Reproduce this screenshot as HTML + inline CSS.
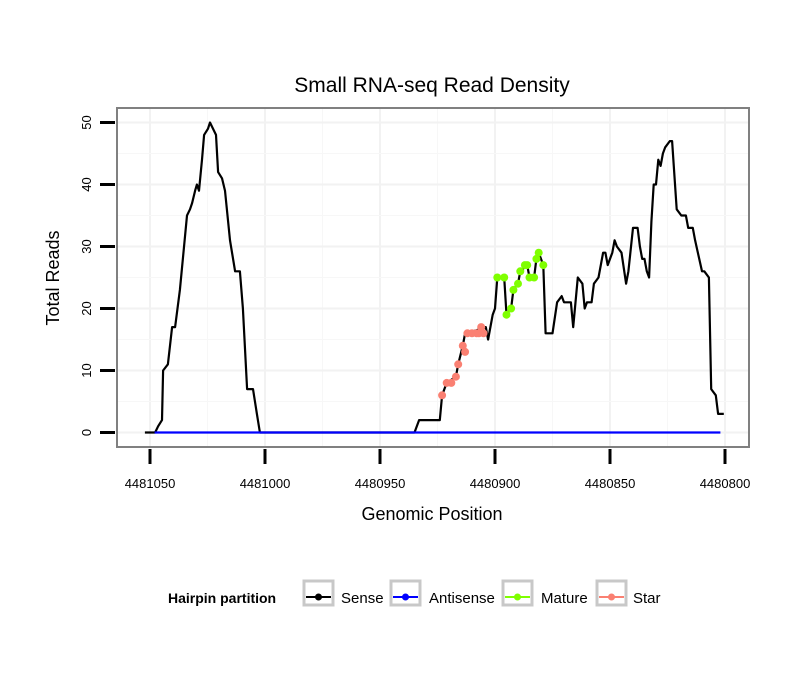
<!DOCTYPE html>
<html><head><meta charset="utf-8"><style>
body{margin:0;background:#fff;font-family:"Liberation Sans",sans-serif}
</style></head><body>
<svg width="810" height="690" xmlns="http://www.w3.org/2000/svg" font-family="Liberation Sans, sans-serif">
<text x="432" y="92" font-size="21" text-anchor="middle">Small RNA-seq Read Density</text>
<g id="grid"></g>
<rect x="117" y="108" width="632" height="339" fill="none" stroke="#808080" stroke-width="2"/>
<g id="axes"></g>
<g id="series"></g>
<text x="432" y="520" font-size="18" text-anchor="middle">Genomic Position</text>
<text transform="translate(59,278) rotate(-90)" font-size="18" text-anchor="middle">Total Reads</text>
<g>
<text x="168" y="603" font-size="14" font-weight="bold">Hairpin partition</text>
<g><rect x="304" y="581" width="29" height="24" fill="#fff" stroke="#c8c8c8" stroke-width="3"/><line x1="306" y1="597" x2="331" y2="597" stroke="#000" stroke-width="2"/><circle cx="318.5" cy="597" r="3.5" fill="#000"/><text x="341" y="603" font-size="15">Sense</text></g>
<g><rect x="391" y="581" width="29" height="24" fill="#fff" stroke="#c8c8c8" stroke-width="3"/><line x1="393" y1="597" x2="418" y2="597" stroke="#0000ff" stroke-width="2"/><circle cx="405.5" cy="597" r="3.5" fill="#0000ff"/><text x="429" y="603" font-size="15">Antisense</text></g>
<g><rect x="503" y="581" width="29" height="24" fill="#fff" stroke="#c8c8c8" stroke-width="3"/><line x1="505" y1="597" x2="530" y2="597" stroke="#7fff00" stroke-width="2"/><circle cx="517.5" cy="597" r="3.5" fill="#7fff00"/><text x="541" y="603" font-size="15">Mature</text></g>
<g><rect x="597" y="581" width="29" height="24" fill="#fff" stroke="#c8c8c8" stroke-width="3"/><line x1="599" y1="597" x2="624" y2="597" stroke="#fa8072" stroke-width="2"/><circle cx="611.5" cy="597" r="3.5" fill="#fa8072"/><text x="633" y="603" font-size="15">Star</text></g>
</g>
</svg>
<script>
const xTicks=[4481050,4481000,4480950,4480900,4480850,4480800];
const yTicks=[0,10,20,30,40,50];
const sensePos=[4481052.2,4481047.8,4481046.5,4481044.8,4481044.3,4481042.2,4481040.4,4481039.1,4481037.0,4481033.9,4481032.6,4481031.7,4481030.4,4481029.6,4481028.7,4481027.4,4481026.5,4481024.8,4481023.9,4481021.3,4481020.4,4481018.7,4481017.4,4481015.2,4481013.0,4481010.9,4481009.6,4481007.8,4481005.2,4481003.5,4481002.2,4480935,4480933,4480924,4480923,4480921,4480917,4480916,4480914,4480913,4480912,4480904,4480903,4480901,4480900,4480899,4480896,4480895,4480893,4480892,4480890,4480889,4480886,4480885,4480883,4480882,4480881,4480879,4480878,4480875,4480873,4480871,4480870,4480867,4480866,4480864,4480862,4480861,4480860,4480858,4480857,4480855,4480853,4480852,4480851,4480849,4480848,4480847,4480845,4480843,4480842,4480840,4480838,4480837,4480836,4480835,4480834,4480833,4480832,4480831,4480830,4480829,4480828,4480827,4480826,4480824,4480823,4480821,4480819,4480817,4480816,4480814,4480813,4480810,4480809,4480807,4480806,4480804,4480803,4480800.5];
const senseReads=[0,0,1,2,10,11,17,17,23,35,36,37,39,40,39,44,48,49,50,48,42,41,39,31,26,26,20,7,7,3,0,0,2,2,6,8,9,11,14,16,16,17,15,19,20,25,25,19,20,23,24,26,27,25,25,28,29,27,16,16,21,22,21,21,17,25,24,20,21,21,24,25,29,29,27,29,31,30,29,24,26,33,33,30,28,28,26,25,34,40,40,44,43,45,46,47,47,36,35,35,33,33,31,26,26,25,7,6,3,3,1];
const antisensePos=[4481048,4480802];
const antisenseReads=[0,0];
const starPos=[4480923,4480921,4480919,4480917,4480916,4480914,4480913,4480912,4480910,4480908,4480907,4480906,4480905];
const starReads=[6,8,8,9,11,14,13,16,16,16,16,17,16];
const maturePos=[4480899,4480896,4480895,4480893,4480892,4480890,4480889,4480887,4480886,4480885,4480883,4480882,4480881,4480879];
const matureReads=[25,25,19,20,23,24,26,27,27,25,25,28,29,27];
const NS="http://www.w3.org/2000/svg";
const X=p=>150+(4481050-p)*2.3;
const Y=v=>432.5-v*6.2;
function mk(t,a,parent){const e=document.createElementNS(NS,t);for(const k in a)e.setAttribute(k,a[k]);document.getElementById(parent).appendChild(e);return e;}
for(let i=0;i<xTicks.length;i++){
 const l=mk('line',{x1:X(xTicks[i]),x2:X(xTicks[i]),y1:109,y2:446,stroke:'#f2f2f2','stroke-width':2},'grid');
 
 
 if(i<xTicks.length-1){const m=(xTicks[i]+xTicks[i+1])/2;const l2=mk('line',{x1:X(m),x2:X(m),y1:109,y2:446,stroke:'#f7f7f7','stroke-width':1},'grid');
 
 }
}
for(let i=0;i<yTicks.length;i++){
 const l=mk('line',{x1:118,x2:748,y1:Y(yTicks[i]),y2:Y(yTicks[i]),stroke:'#f2f2f2','stroke-width':2},'grid');
 
 
 if(i<yTicks.length-1){const m=(yTicks[i]+yTicks[i+1])/2;const l2=mk('line',{x1:118,x2:748,y1:Y(m),y2:Y(m),stroke:'#f7f7f7','stroke-width':1},'grid');
 
 }
}
xTicks.forEach(t=>{
 const l=mk('line',{x1:X(t),x2:X(t),y1:449,y2:464,stroke:'#000','stroke-width':3},'axes');
 
 
 const tx=mk('text',{x:X(t),y:488,'font-size':13,'text-anchor':'middle'},'axes');tx.textContent=t;
 
 
});
yTicks.forEach(t=>{
 const l=mk('line',{x1:100,x2:115,y1:Y(t),y2:Y(t),stroke:'#000','stroke-width':3},'axes');
 
 
 const tx=mk('text',{transform:`translate(91,${Y(t)}) rotate(-90)`,'font-size':13,'text-anchor':'middle'},'axes');tx.textContent=t;
 
 
});
function line(pos,vals,col,name){
 const d=pos.map((p,i)=>(i?'L':'M')+X(p).toFixed(1)+','+Y(vals[i]).toFixed(1)).join('');
 const e=mk('path',{d:d,fill:'none',stroke:col,'stroke-width':2.2,'stroke-linejoin':'round'},'series');
 
 
}
line(sensePos,senseReads,'#000','sense-line');
line(antisensePos,antisenseReads,'#0000ff','antisense-line');
function dots(pos,vals,col,name){
 pos.forEach((p,i)=>{const c=mk('circle',{cx:X(p),cy:Y(vals[i]),r:4,fill:col},'series');
 
 });
}
dots(starPos,starReads,'#fa8072','star-point');
dots(maturePos,matureReads,'#7fff00','mature-point');
</script>
</body></html>
